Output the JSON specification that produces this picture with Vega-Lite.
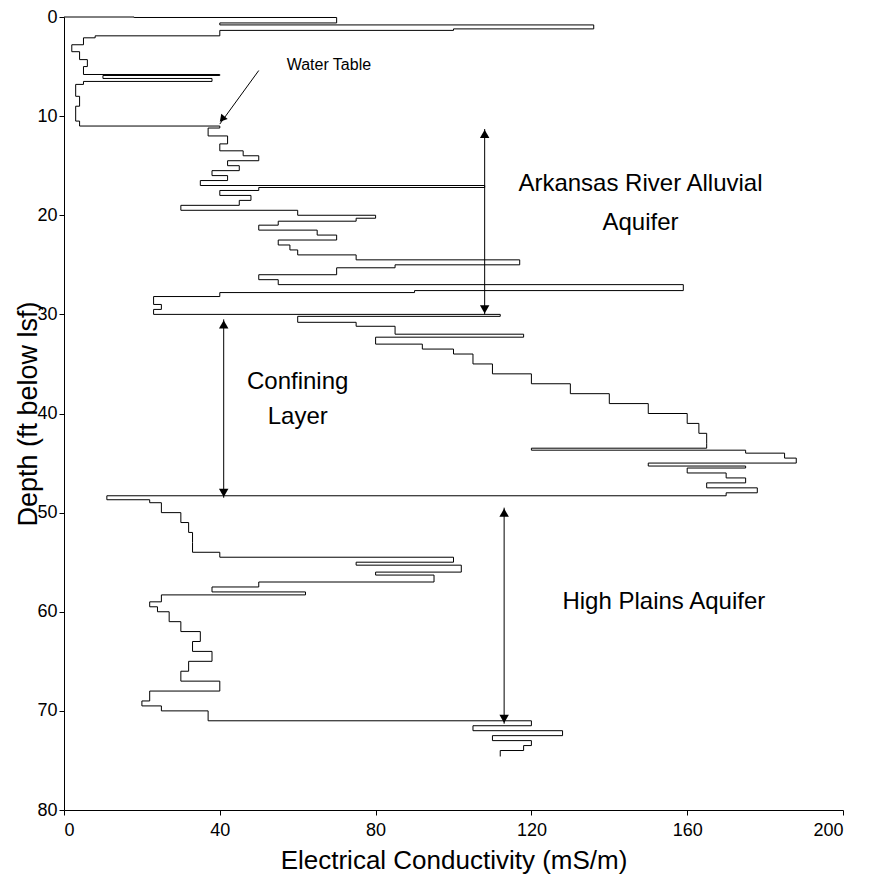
{
  "$schema": "https://vega.github.io/schema/vega-lite/v6.json",
  "width": 779,
  "height": 793,
  "autosize": "none",
  "padding": {"left": 64, "top": 17, "right": 27, "bottom": 74},
  "background": "white",
  "config": {"view": {"stroke": null}, "font": "Liberation Sans"},
  "datasets": {
    "log": [
      {"i":1,"d":0,"ec":0},{"i":2,"d":0.05,"ec":18},{"i":3,"d":0.6,"ec":70},{"i":4,"d":0.8,"ec":40},
      {"i":5,"d":1.2,"ec":136},{"i":6,"d":1.35,"ec":100},{"i":7,"d":1.9,"ec":40},{"i":8,"d":2.1,"ec":8},
      {"i":9,"d":2.8,"ec":5},{"i":10,"d":3.5,"ec":2},{"i":11,"d":4.3,"ec":4},{"i":12,"d":5,"ec":6},
      {"i":13,"d":5.8,"ec":5},{"i":14,"d":5.9,"ec":40},{"i":15,"d":6.2,"ec":10},{"i":16,"d":6.5,"ec":38},
      {"i":17,"d":6.8,"ec":5},{"i":18,"d":8,"ec":3},{"i":19,"d":9,"ec":4},{"i":20,"d":10.5,"ec":3},
      {"i":21,"d":11,"ec":4},{"i":22,"d":11.2,"ec":40},{"i":23,"d":12,"ec":37},{"i":24,"d":12.8,"ec":42},
      {"i":25,"d":13.5,"ec":40},{"i":26,"d":14,"ec":46},{"i":27,"d":14.5,"ec":50},{"i":28,"d":15,"ec":42},
      {"i":29,"d":15.5,"ec":45},{"i":30,"d":16,"ec":38},{"i":31,"d":16.5,"ec":42},{"i":32,"d":17,"ec":35},
      {"i":33,"d":17.2,"ec":108},{"i":34,"d":17.5,"ec":50},{"i":35,"d":18,"ec":40},{"i":36,"d":18.5,"ec":48},
      {"i":37,"d":19,"ec":45},{"i":38,"d":19.5,"ec":30},{"i":39,"d":20,"ec":60},{"i":40,"d":20.3,"ec":80},
      {"i":41,"d":20.6,"ec":75},{"i":42,"d":21,"ec":55},{"i":43,"d":21.5,"ec":50},{"i":44,"d":22,"ec":65},
      {"i":45,"d":22.5,"ec":70},{"i":46,"d":23,"ec":55},{"i":47,"d":23.5,"ec":58},{"i":48,"d":24,"ec":60},
      {"i":49,"d":24.5,"ec":75},{"i":50,"d":25,"ec":117},{"i":51,"d":25.3,"ec":85},{"i":52,"d":26,"ec":70},
      {"i":53,"d":26.5,"ec":50},{"i":54,"d":27,"ec":55},{"i":55,"d":27.6,"ec":159},{"i":56,"d":27.8,"ec":90},
      {"i":57,"d":28.2,"ec":40},{"i":58,"d":29,"ec":23},{"i":59,"d":29.5,"ec":25},{"i":60,"d":30,"ec":23},
      {"i":61,"d":30.2,"ec":112},{"i":62,"d":30.8,"ec":60},{"i":63,"d":31.2,"ec":75},{"i":64,"d":32,"ec":85},
      {"i":65,"d":32.3,"ec":118},{"i":66,"d":33,"ec":80},{"i":67,"d":33.5,"ec":92},{"i":68,"d":34,"ec":100},
      {"i":69,"d":35,"ec":105},{"i":70,"d":36,"ec":110},{"i":71,"d":37,"ec":120},{"i":72,"d":38,"ec":130},
      {"i":73,"d":39,"ec":140},{"i":74,"d":40,"ec":150},{"i":75,"d":41,"ec":160},{"i":76,"d":42,"ec":163},
      {"i":77,"d":43,"ec":165},{"i":78,"d":43.5,"ec":165},{"i":79,"d":43.7,"ec":120},{"i":80,"d":44,"ec":175},
      {"i":81,"d":44.5,"ec":185},{"i":82,"d":45,"ec":188},{"i":83,"d":45.3,"ec":150},{"i":84,"d":45.5,"ec":175},
      {"i":85,"d":46,"ec":160},{"i":86,"d":46.5,"ec":170},{"i":87,"d":47,"ec":175},{"i":88,"d":47.5,"ec":165},
      {"i":89,"d":48,"ec":178},{"i":90,"d":48.3,"ec":170},{"i":91,"d":48.7,"ec":11},{"i":92,"d":49,"ec":22},
      {"i":93,"d":50,"ec":25},{"i":94,"d":51,"ec":30},{"i":95,"d":52,"ec":32},{"i":96,"d":53,"ec":33},
      {"i":97,"d":54,"ec":33},{"i":98,"d":54.5,"ec":40},{"i":99,"d":55,"ec":100},{"i":100,"d":55.3,"ec":75},
      {"i":101,"d":56,"ec":102},{"i":102,"d":56.3,"ec":80},{"i":103,"d":57,"ec":95},{"i":104,"d":57.5,"ec":50},
      {"i":105,"d":58,"ec":38},{"i":106,"d":58.3,"ec":62},{"i":107,"d":59,"ec":25},{"i":108,"d":59.5,"ec":22},
      {"i":109,"d":60,"ec":24},{"i":110,"d":61,"ec":27},{"i":111,"d":62,"ec":30},{"i":112,"d":63,"ec":35},
      {"i":113,"d":64,"ec":33},{"i":114,"d":65,"ec":38},{"i":115,"d":66,"ec":32},{"i":116,"d":67,"ec":30},
      {"i":117,"d":68,"ec":40},{"i":118,"d":69,"ec":22},{"i":119,"d":69.5,"ec":20},{"i":120,"d":70,"ec":25},
      {"i":121,"d":71,"ec":37},{"i":122,"d":71.5,"ec":120},{"i":123,"d":72,"ec":105},{"i":124,"d":72.5,"ec":128},
      {"i":125,"d":73,"ec":110},{"i":126,"d":73.5,"ec":120},{"i":127,"d":74,"ec":118},{"i":128,"d":74.6,"ec":112}
    ],
    "arrows": [
      {"x":108,"y1":11.3,"y2":30},
      {"x":41,"y1":30.5,"y2":48.5},
      {"x":113,"y1":49.5,"y2":71.3}
    ],
    "heads": [
      {"x":108,"y":11.8,"s":"triangle-up"},{"x":108,"y":29.5,"s":"triangle-down"},
      {"x":41,"y":31,"s":"triangle-up"},{"x":41,"y":48,"s":"triangle-down"},
      {"x":113,"y":50,"s":"triangle-up"},{"x":113,"y":70.8,"s":"triangle-down"}
    ],
    "labels": [
      {"x":148,"y":16.8,"t":"Arkansas River Alluvial","fs":24},
      {"x":148,"y":20.8,"t":"Aquifer","fs":24},
      {"x":60,"y":36.8,"t":"Confining","fs":24},
      {"x":60,"y":40.4,"t":"Layer","fs":24},
      {"x":154,"y":59,"t":"High Plains Aquifer","fs":24},
      {"x":68,"y":4.8,"t":"Water Table","fs":16}
    ]
  },
  "layer": [
    {
      "data": {"name": "log"},
      "mark": {"type": "line", "color": "black", "strokeWidth": 1, "interpolate": "step-after"},
      "encoding": {
        "x": {"field": "ec", "type": "quantitative", "scale": {"domain": [0, 200]},
          "axis": {"values": [0,40,80,120,160,200], "title": "Electrical Conductivity (mS/m)", "titleFontSize": 26, "titleFontWeight": "normal", "titleColor": "black", "titlePadding": 8, "labelFontSize": 18, "labelColor": "black", "domainColor": "black", "tickColor": "black", "grid": false, "labelPadding": 6}},
        "y": {"field": "d", "type": "quantitative", "scale": {"domain": [0, 80], "reverse": true},
          "axis": {"values": [0,10,20,30,40,50,60,70,80], "title": "Depth (ft below lsf)", "titleFontSize": 27, "titleFontWeight": "normal", "titleColor": "black", "titleX": -22, "labelFontSize": 18, "labelColor": "black", "domainColor": "black", "tickColor": "black", "grid": false}},
        "order": {"field": "i", "type": "quantitative"}
      }
    },
    {
      "data": {"name": "arrows"},
      "mark": {"type": "rule", "color": "black", "strokeWidth": 1},
      "encoding": {"x": {"field": "x", "type": "quantitative"}, "y": {"field": "y1", "type": "quantitative"}, "y2": {"field": "y2"}}
    },
    {
      "data": {"values": [{"x":50,"y":5.4,"x2":40,"y2":10.8}]},
      "mark": {"type": "rule", "color": "black", "strokeWidth": 1},
      "encoding": {"x": {"field": "x", "type": "quantitative"}, "y": {"field": "y", "type": "quantitative"}, "x2": {"field": "x2"}, "y2": {"field": "y2"}}
    },
    {
      "data": {"values": [{"x":40.6,"y":10.3}]},
      "mark": {"type": "point", "shape": "triangle-down", "filled": true, "color": "black", "opacity": 1, "size": 70, "angle": 40},
      "encoding": {"x": {"field": "x", "type": "quantitative"}, "y": {"field": "y", "type": "quantitative"}}
    },
    {
      "data": {"name": "heads"},
      "mark": {"type": "point", "filled": true, "color": "black", "opacity": 1, "size": 90},
      "encoding": {"x": {"field": "x", "type": "quantitative"}, "y": {"field": "y", "type": "quantitative"},
        "shape": {"field": "s", "type": "nominal", "scale": null}}
    },
    {
      "data": {"name": "labels"},
      "mark": {"type": "text", "color": "black", "align": "center", "baseline": "middle"},
      "encoding": {"x": {"field": "x", "type": "quantitative"}, "y": {"field": "y", "type": "quantitative"},
        "text": {"field": "t"}, "size": {"field": "fs", "type": "quantitative", "scale": null}}
    }
  ]
}
